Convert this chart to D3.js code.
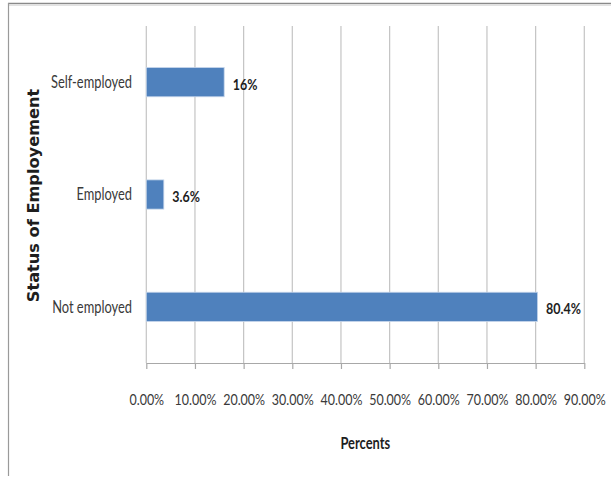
<!DOCTYPE html>
<html>
<head>
<meta charset="utf-8">
<script src="https://cdn.jsdelivr.net/npm/d3@7/dist/d3.min.js"></script>
<style>
  html, body { margin: 0; padding: 0; background: #fff; }
  svg { display: block; }
  .cond { font-family: Lato, "Open Sans", sans-serif; }
</style>
</head>
<body>
<svg id="chart" width="611" height="477"></svg>
<script>
// Employment status shares (percent)
const categories = ["Self-employed", "Employed", "Not employed"];
const values = [16, 3.6, 80.4];
const valueLabels = ["16%", "3.6%", "80.4%"];
const tickValues = [0, 10, 20, 30, 40, 50, 60, 70, 80, 90];
const tickLabels = ["0.00%", "10.00%", "20.00%", "30.00%", "40.00%", "50.00%", "60.00%", "70.00%", "80.00%", "90.00%"];

const svg = d3.select("#chart");
const W = 611;
const plot = { left: 146.3, right: 584.3, top: 26, bottom: 363 };
const squeeze = 0.79; // horizontal compression for the condensed label face

// Outer frame: top and left edges
svg.append("line").attr("x1", 8).attr("x2", W).attr("y1", 3.5).attr("y2", 3.5)
  .attr("stroke", "#8a8a8a").attr("stroke-width", 1.5);
svg.append("line").attr("x1", 9).attr("x2", W).attr("y1", 5.5).attr("y2", 5.5)
  .attr("stroke", "#e2e2e2").attr("stroke-width", 1);
svg.append("line").attr("x1", 8.5).attr("x2", 8.5).attr("y1", 3).attr("y2", 476)
  .attr("stroke", "#9a9a9a").attr("stroke-width", 1.2);

const x = d3.scaleLinear().domain([0, 90]).range([plot.left, plot.right]);
const y = d3.scaleBand().domain(categories).range([plot.top, plot.bottom])
  .paddingInner(0.74).paddingOuter(0.37);

// Vertical gridlines
svg.append("g").selectAll("line").data(tickValues).join("line")
  .attr("x1", d => x(d)).attr("x2", d => x(d))
  .attr("y1", plot.top).attr("y2", plot.bottom)
  .attr("stroke", "#c4c4c4").attr("stroke-width", 1.2);

// Bottom axis
const xAxis = d3.axisBottom(x).tickValues(tickValues)
  .tickFormat((d, i) => tickLabels[i]).tickSize(6).tickSizeOuter(0);
const gx = svg.append("g").attr("transform", `translate(0,${plot.bottom})`).call(xAxis);
gx.select(".domain").attr("stroke", "#a8a8a8").attr("stroke-width", 1.2);
gx.selectAll(".tick line").attr("stroke", "#a8a8a8").attr("stroke-width", 1.2);
gx.selectAll(".tick text").attr("class", "cond").attr("font-size", 15.8)
  .attr("fill", "#3a3a3a").attr("y", 36).attr("dy", "0.35em")
  .attr("transform", `scale(${squeeze},1)`);

// Category labels
svg.append("g").selectAll("text").data(categories).join("text")
  .attr("class", "cond")
  .attr("transform", d => `translate(132,${y(d) + y.bandwidth() / 2}) scale(${squeeze},1)`)
  .attr("dy", "0.35em").attr("text-anchor", "end")
  .attr("font-size", 16.3).attr("fill", "#3a3a3a")
  .text(d => d);

// Bars
svg.append("g").selectAll("rect").data(values).join("rect")
  .attr("x", x(0))
  .attr("y", (d, i) => y(categories[i]))
  .attr("width", d => x(d) - x(0))
  .attr("height", y.bandwidth())
  .attr("fill", "#4f81bd")
  .attr("stroke", "#c5d5ea").attr("stroke-width", 0.8);

// Value labels
svg.append("g").selectAll("text").data(values).join("text")
  .attr("class", "cond")
  .attr("transform", (d, i) => `translate(${x(d) + 8.5},${y(categories[i]) + y.bandwidth() / 2 + 2}) scale(${squeeze},1)`)
  .attr("dy", "0.35em")
  .attr("font-size", 15.8).attr("font-weight", "bold").attr("fill", "#1e1e1e")
  .text((d, i) => valueLabels[i]);

// Axis titles
svg.append("text").attr("class", "cond")
  .attr("transform", `translate(${(plot.left + plot.right) / 2},443) scale(${squeeze},1)`)
  .attr("dy", "0.35em")
  .attr("text-anchor", "middle").attr("font-size", 16.3).attr("font-weight", "bold")
  .attr("fill", "#1e1e1e").text("Percents");

svg.append("text")
  .attr("transform", `translate(33,${(plot.top + plot.bottom) / 2 + 1}) rotate(-90)`)
  .attr("dy", "0.35em").attr("text-anchor", "middle")
  .attr("font-family", "'DejaVu Sans', Verdana, sans-serif")
  .attr("font-size", 16.2).attr("font-weight", "bold").attr("fill", "#1e1e1e")
  .text("Status of Employement");
</script>
</body>
</html>
